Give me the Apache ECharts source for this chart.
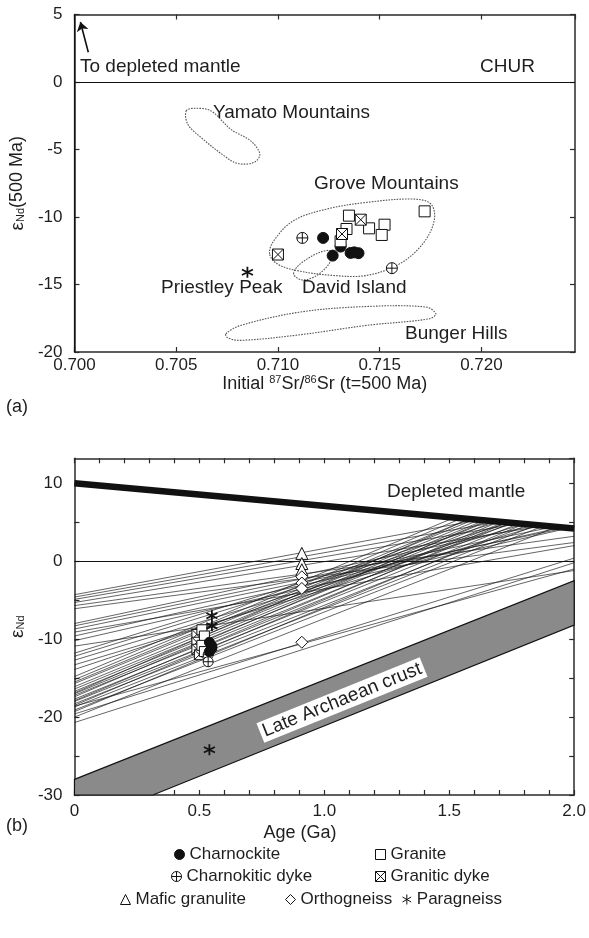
<!DOCTYPE html>
<html>
<head>
<meta charset="utf-8">
<script src="https://cdn.jsdelivr.net/npm/echarts@6/dist/echarts.min.js"></script>
<style>
html, body { margin: 0; padding: 0; background: #fff; }
#main { width: 589px; height: 938px; }
</style>
</head>
<body>
<div id="main"></div>
<script>
var FONT = '"Liberation Sans", Arial, sans-serif';
var INK = '#1e1e1e';

// ---- panel (a): initial 87Sr/86Sr vs eNd(500 Ma)
var charnockiteA = [[0.71222, -11.55], [0.71308, -12.19], [0.71269, -12.86], [0.71357, -12.66], [0.71396, -12.68], [0.71375, -12.62]];
var graniteA = [[0.71349, -9.90], [0.71721, -9.58], [0.71337, -10.89], [0.71448, -10.84], [0.71524, -10.57], [0.71510, -11.33], [0.71308, -11.80]];
var charnokiticDykeA = [[0.71120, -11.55], [0.71560, -13.79]];
var graniticDykeA = [[0.71407, -10.20], [0.71315, -11.26], [0.71000, -12.78]];
var paragneissA = [[0.70850, -14.09]];

// field outlines (read around the dotted curves)
var yamatoField = [[0.70549, -2.14], [0.70589, -1.95], [0.70671, -2.14], [0.70768, -3.50], [0.70866, -4.36], [0.70911, -5.34],
  [0.70882, -5.96], [0.70801, -6.03], [0.70736, -5.47], [0.70622, -4.11], [0.70557, -3.13]];
var groveField = [[0.70959, -12.73], [0.70980, -11.75], [0.71077, -10.27], [0.71240, -9.41], [0.71435, -8.92], [0.71663, -8.67],
  [0.71752, -9.04], [0.71768, -10.27], [0.71711, -12.00], [0.71598, -13.47], [0.71435, -14.33], [0.71272, -14.33],
  [0.71094, -13.97], [0.70996, -13.47]];
var davidField = [[0.71077, -14.21], [0.71110, -13.47], [0.71207, -12.61], [0.71264, -12.54], [0.71256, -13.35], [0.71191, -14.33], [0.71118, -14.66]];
var bungerField = [[0.70744, -18.65], [0.70817, -18.03], [0.71110, -17.04], [0.71435, -16.63], [0.71728, -16.67], [0.71776, -17.17],
  [0.71744, -17.54], [0.71435, -18.03], [0.71110, -18.72], [0.70817, -19.14], [0.70752, -18.94]];
var mantleArrow = [[0.70068, 2.2], [0.70029, 4.45]];
var srRefLine = 0.7044;

// ---- panel (b): age (Ga) vs eNd
var depletedMantle = [[0, 10], [2.0, 4.2]];
var archaeanCrust = [[0, -28.0], [2.0, -2.5], [2.0, -8.2], [0.314, -30], [0, -30]];
// evolution lines: [eNd at 0 Ga, end age, end eNd]
var evoLines = [
  [-4.3, 1.62, 5.30], [-4.6, 1.70, 5.07], [-4.9, 1.78, 4.84], [-5.3, 1.88, 4.55], [-5.7, 2.0, 3.2], [-6.1, 2.0, 2.4],
  [-8.0, 1.85, 4.64], [-8.3, 1.92, 4.43], [-8.7, 1.97, 4.29], [-9.1, 2.0, 2.0], [-9.6, 1.95, 4.35], [-10.2, 1.98, 4.26], [-10.9, 2.0, -1.2],
  [-11.8, 1.70, 5.07], [-12.2, 1.74, 4.95], [-12.7, 1.80, 4.78], [-13.3, 1.86, 4.60], [-13.9, 1.76, 4.90],
  [-14.8, 1.52, 5.59], [-15.2, 1.55, 5.50], [-15.5, 1.58, 5.42], [-15.7, 1.60, 5.36], [-16.1, 1.62, 5.30], [-16.4, 1.64, 5.24],
  [-16.7, 1.66, 5.19], [-16.9, 1.58, 5.42], [-17.0, 1.68, 5.13], [-17.2, 1.72, 5.01], [-17.4, 1.65, 5.21], [-17.7, 1.75, 4.93],
  [-17.9, 1.70, 5.07], [-18.0, 1.78, 4.84], [-18.3, 1.82, 4.72], [-18.5, 1.73, 4.98], [-18.7, 1.85, 4.64], [-19.1, 1.88, 4.55],
  [-19.3, 1.80, 4.78], [-19.6, 2.0, 0.4], [-20.0, 1.93, 4.40], [-20.7, 2.0, -0.2], [-18.6, 2.0, -1.0]
];
var charnockiteB = [[0.54, -10.4], [0.55, -11.2], [0.54, -11.6], [0.55, -10.9]];
var graniteB = [[0.51, -8.8], [0.52, -9.6], [0.51, -10.8], [0.52, -11.6]];
var graniticDykeB = [[0.49, -9.4], [0.49, -10.4], [0.49, -11.3], [0.50, -12.0]];
var charnokiticDykeB = [[0.535, -12.0], [0.535, -12.9]];
var maficGranuliteB = [[0.91, 1.0], [0.91, -0.3], [0.91, -1.1]];
var orthogneissB = [[0.91, -2.0], [0.91, -2.8], [0.91, -3.5], [0.91, -10.4]];
var paragneissB = [[0.55, -7.0], [0.55, -8.3], [0.54, -24.2]];

var SYM = {
  'Charnockite': 'circle',
  'Granite': 'rect',
  'Charnokitic dyke': 'path://M-5,0A5,5,0,1,1,5,0A5,5,0,1,1,-5,0ZM-5,0L5,0M0,-5L0,5',
  'Granitic dyke': 'path://M-5,-5L5,-5L5,5L-5,5ZM-5,-5L5,5M5,-5L-5,5',
  'Mafic granulite': 'triangle',
  'Orthogneiss': 'diamond',
  'Paragneiss': 'path://M0,-5L0,5M-4.33,-2.5L4.33,2.5M-4.33,2.5L4.33,-2.5'
};

function pointSeries(name, data, idx, size) {
  var filled = name === 'Charnockite';
  return {
    type: 'scatter', name: name, xAxisIndex: idx, yAxisIndex: idx, data: data,
    symbol: SYM[name], symbolSize: size, z: 5,
    itemStyle: {
      color: filled ? '#111' : '#fff',
      borderColor: '#111',
      borderWidth: name === 'Paragneiss' ? 1.8 : 1,
      opacity: 1
    }
  };
}

function fieldSeries(pts) {
  return {
    type: 'custom', xAxisIndex: 0, yAxisIndex: 0, data: pts, silent: true, z: 3,
    renderItem: function (params, api) {
      if (params.dataIndex !== 0) return;
      return {
        type: 'polygon',
        shape: { points: pts.map(function (p) { return api.coord(p); }), smooth: 0.35 },
        style: { fill: 'none', stroke: '#555', lineWidth: 1.1, lineDash: [1.6, 1.2] }
      };
    }
  };
}

function txt(text, x, y, size, extra) {
  var el = {
    type: 'text', x: x, y: y, z: 100,
    style: { text: text, fill: INK, font: (size || 19) + 'px ' + FONT, verticalAlign: 'middle', align: 'left' }
  };
  if (extra) {
    for (var k in extra) el.style[k] = extra[k];
  }
  return el;
}

var axisLineStyle = { color: '#2a2a2a', width: 1.5 };
var tickStyle = { color: '#2a2a2a', width: 1.2 };
var labelStyle = { fontSize: 17, color: INK, fontFamily: FONT };

function frameAxis(gridIndex, pos, min, max, interval) {
  return {
    type: 'value', gridIndex: gridIndex, position: pos, min: min, max: max, interval: interval,
    axisLine: { show: true, onZero: false, lineStyle: axisLineStyle },
    axisTick: { show: true, inside: true, length: 5, lineStyle: tickStyle },
    axisLabel: { show: false }, splitLine: { show: false }
  };
}

var xA = frameAxis(0, 'bottom', 0.700, 0.7246, 0.005);
xA.axisLabel = Object.assign({ show: true, margin: 5, showMaxLabel: false, formatter: function (v) { return v.toFixed(3); } }, labelStyle);
xA.name = '{n|Initial }{p|87}{n|Sr/}{p|86}{n|Sr (t=500 Ma)}';
xA.nameLocation = 'middle';
xA.nameGap = 21;
xA.nameTextStyle = { rich: {
  n: { fontSize: 18, color: INK, fontFamily: FONT },
  p: { fontSize: 11, color: INK, fontFamily: FONT, padding: [0, 0, 8, 0] }
} };

var yA = frameAxis(0, 'left', -20, 5, 5);
yA.axisLabel = Object.assign({ show: true, margin: 12 }, labelStyle);
yA.name = '{e|\u03b5}{s|Nd}{n|(500 Ma)}';
yA.nameLocation = 'middle';
yA.nameRotate = 90;
yA.nameGap = 34;
yA.nameTextStyle = { rich: {
  e: { fontSize: 19, color: INK, fontFamily: FONT },
  s: { fontSize: 11, color: INK, fontFamily: FONT, padding: [7, 0, 0, 0] },
  n: { fontSize: 18, color: INK, fontFamily: FONT }
} };

var xB = frameAxis(1, 'bottom', 0, 2, 0.1);
xB.axisLabel = Object.assign({ show: true, margin: 8, formatter: function (v) {
  var k = Math.round(v * 10);
  if (k % 5 !== 0) return '';
  return k === 0 ? '0' : (k / 10).toFixed(1);
} }, labelStyle);

var yB = frameAxis(1, 'left', -30, 13.2, 5);
yB.axisLabel = Object.assign({ show: true, margin: 12, showMaxLabel: false, formatter: function (v) {
  var k = Math.round(v);
  return k % 10 === 0 ? String(k) : '';
} }, labelStyle);
yB.name = '{e|\u03b5}{s|Nd}';
yB.nameLocation = 'middle';
yB.nameRotate = 90;
yB.nameGap = 32;
yB.nameTextStyle = yA.nameTextStyle;

var legendLayout = [
  ['Charnockite', 174, 846], ['Granite', 375, 846],
  ['Charnokitic dyke', 171, 868], ['Granitic dyke', 375, 868],
  ['Mafic granulite', 120, 891], ['Orthogneiss', 285, 891], ['Paragneiss', 402, 891]
];

var series = [
  fieldSeries(yamatoField), fieldSeries(groveField), fieldSeries(davidField), fieldSeries(bungerField),
  {
    type: 'lines', coordinateSystem: 'cartesian2d', xAxisIndex: 0, yAxisIndex: 0, silent: true, z: 4,
    data: [{ coords: mantleArrow }],
    symbol: ['none', 'arrow'], symbolSize: 9,
    lineStyle: { color: '#111', width: 1.6, opacity: 1 }
  },
  {
    type: 'custom', xAxisIndex: 2, yAxisIndex: 2, data: archaeanCrust, silent: true, z: 1,
    renderItem: function (params, api) {
      if (params.dataIndex !== 0) return;
      return {
        type: 'polygon',
        shape: { points: archaeanCrust.map(function (p) { return api.coord(p); }) },
        style: { fill: '#8a8a8a', stroke: '#111', lineWidth: 1.2 }
      };
    }
  },
  {
    type: 'lines', coordinateSystem: 'cartesian2d', xAxisIndex: 2, yAxisIndex: 2, silent: true, z: 2,
    data: evoLines.map(function (l) { return { coords: [[0, l[0]], [l[1], l[2]]] }; }),
    lineStyle: { color: '#1a1a1a', width: 0.75, opacity: 0.9 }
  },
  {
    type: 'line', xAxisIndex: 2, yAxisIndex: 2, data: depletedMantle, symbol: 'none', silent: true, z: 3,
    lineStyle: { color: '#111', width: 6.5 },
    markLine: { silent: true, symbol: 'none', label: { show: false },
      lineStyle: { color: '#111', type: 'solid', width: 1.2 }, data: [{ yAxis: 0 }] }
  },
  {
    type: 'line', xAxisIndex: 0, yAxisIndex: 0, data: [], silent: true,
    markLine: { silent: true, symbol: 'none', label: { show: false }, animation: false,
      lineStyle: { color: '#111', type: 'solid', width: 1.2 }, data: [{ yAxis: 0 }, { xAxis: srRefLine }] }
  },
  pointSeries('Charnockite', charnockiteA, 0, 11),
  pointSeries('Granite', graniteA, 0, 11),
  pointSeries('Charnokitic dyke', charnokiticDykeA, 0, 11),
  pointSeries('Granitic dyke', graniticDykeA, 0, 11),
  pointSeries('Paragneiss', paragneissA, 0, 11),
  pointSeries('Granitic dyke', graniticDykeB, 2, 10),
  pointSeries('Granite', graniteB, 2, 10),
  pointSeries('Charnokitic dyke', charnokiticDykeB, 2, 10),
  pointSeries('Charnockite', charnockiteB, 2, 10),
  pointSeries('Mafic granulite', maficGranuliteB, 2, 12),
  pointSeries('Orthogneiss', orthogneissB, 2, 12),
  pointSeries('Paragneiss', paragneissB, 2, 11)
];

var option = {
  animation: false,
  backgroundColor: '#fff',
  grid: [
    { left: 69, top: 14.5, width: 506, height: 337.5 },
    { left: 67.3, top: 458.3, width: 509.4, height: 336.7 }
  ],
  xAxis: [xA, frameAxis(0, 'top', 0.700, 0.7246, 0.005), xB, frameAxis(1, 'top', 0, 2, 0.1)],
  yAxis: [yA, frameAxis(0, 'right', -20, 5, 5), yB, frameAxis(1, 'right', -30, 13.2, 5)],
  legend: legendLayout.map(function (l) {
    return {
      data: [l[0]], left: l[1], top: l[2], padding: 0, itemGap: 0,
      itemWidth: 10, itemHeight: 10, selectedMode: false,
      itemStyle: { borderWidth: 1 },
      textStyle: { fontSize: 17, color: INK, fontFamily: FONT }
    };
  }),
  graphic: [
    txt('To depleted mantle', 80, 67),
    txt('CHUR', 480, 67),
    txt('Yamato Mountains', 213, 113),
    txt('Grove Mountains', 314, 184),
    txt('Priestley Peak', 161, 288),
    txt('David Island', 302, 288),
    txt('Bunger Hills', 405, 334),
    txt('(a)', 6, 407, 18),
    txt('Depleted mantle', 387, 492),
    {
      type: 'text', x: 342, y: 700, z: 100, rotation: 22 * Math.PI / 180,
      style: { text: 'Late Archaean crust', fill: INK, font: '19px ' + FONT, align: 'center', verticalAlign: 'middle',
        backgroundColor: '#fff', padding: [1, 3, 1, 3] }
    },
    txt('Age (Ga)', 300, 833, 18, { align: 'center' }),
    txt('(b)', 6, 826, 18)
  ],
  series: series
};

var myChart = echarts.init(document.getElementById('main'));
myChart.setOption(option);
</script>
</body>
</html>
